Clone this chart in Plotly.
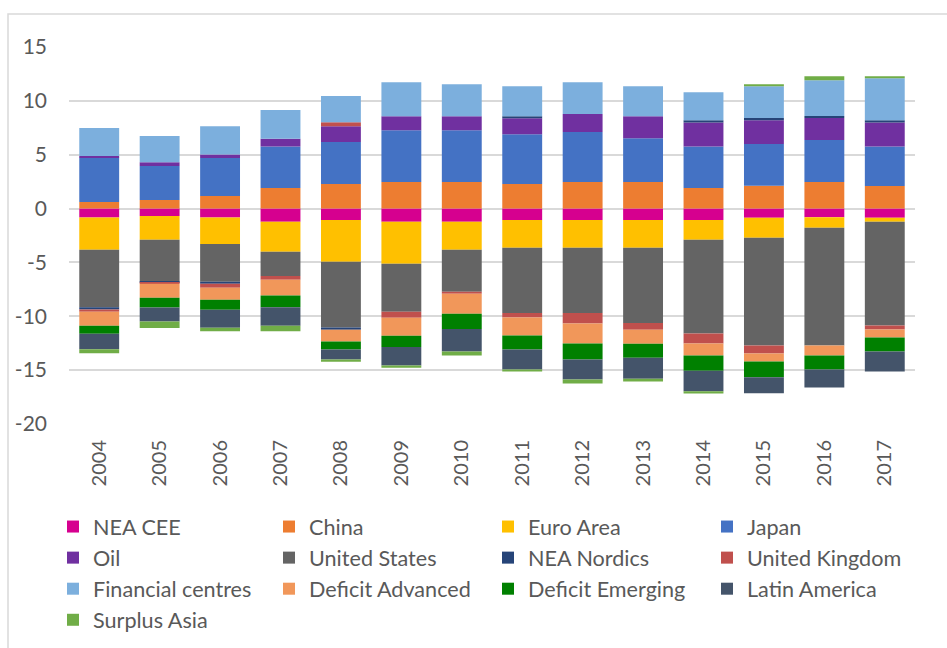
import plotly.graph_objects as go

years = ["2004", "2005", "2006", "2007", "2008", "2009", "2010",
         "2011", "2012", "2013", "2014", "2015", "2016", "2017"]

y_tick_vals = [15, 10, 5, 0, -5, -10, -15, -20]
y_tick_text = ["15", "10", "5", "0", "-5", "-10", "-15", "-20"]

nea_cee = [-0.83, -0.68, -0.83, -1.23, -1.05, -1.23, -1.23, -1.05, -1.05, -1.05, -1.05, -0.86, -0.80, -0.86]
china = [0.62, 0.80, 1.17, 1.91, 2.28, 2.47, 2.47, 2.28, 2.47, 2.47, 1.91, 2.13, 2.47, 2.10]
euro_area = [-3.00, -2.22, -2.47, -2.78, -3.89, -3.89, -2.60, -2.59, -2.59, -2.59, -1.85, -1.85, -0.99, -0.37]
japan = [4.10, 3.15, 3.52, 3.86, 3.89, 4.81, 4.81, 4.63, 4.63, 4.07, 3.86, 3.86, 3.89, 3.67]
oil = [0.15, 0.34, 0.34, 0.71, 1.48, 1.30, 1.30, 1.48, 1.67, 2.04, 2.22, 2.22, 2.04, 2.22]
united_states = [-5.34, -3.89, -3.49, -2.25, -6.11, -4.45, -3.89, -6.05, -6.05, -6.98, -8.70, -10.00, -10.93, -9.63]
nea_nordics = [-0.20, -0.05, -0.19, 0.00, -0.19, 0.00, 0.00, 0.19, 0.00, 0.00, 0.22, 0.19, 0.19, 0.22]
united_kingdom = [-0.20, -0.15, -0.37, -0.34, 0.37, -0.56, -0.19, -0.43, -0.99, -0.62, -0.93, -0.74, 0.00, -0.37]
financial_centres = [2.60, 2.44, 2.62, 2.66, 2.44, 3.15, 2.96, 2.78, 2.96, 2.78, 2.59, 2.96, 3.33, 3.89]
deficit_advanced = [-1.30, -1.30, -1.11, -1.48, -1.11, -1.67, -1.85, -1.67, -1.85, -1.30, -1.11, -0.74, -0.93, -0.74]
deficit_emerging = [-0.74, -0.90, -0.93, -1.08, -0.74, -1.05, -1.42, -1.30, -1.48, -1.30, -1.42, -1.48, -1.30, -1.30]
latin_america = [-1.45, -1.30, -1.67, -1.73, -0.93, -1.73, -2.10, -1.85, -1.85, -1.97, -1.91, -1.48, -1.67, -1.85]
surplus_asia = [-0.37, -0.59, -0.34, -0.49, -0.19, -0.19, -0.37, -0.19, -0.37, -0.25, -0.19, 0.19, 0.37, 0.19]

series = [
    ("NEA CEE", nea_cee, "#D6008F", "legend"),
    ("China", china, "#ED7D31", "legend2"),
    ("Euro Area", euro_area, "#FFC000", "legend3"),
    ("Japan", japan, "#4472C4", "legend4"),
    ("Oil", oil, "#7030A0", "legend"),
    ("United States", united_states, "#646464", "legend2"),
    ("NEA Nordics", nea_nordics, "#264478", "legend3"),
    ("United Kingdom", united_kingdom, "#C0504D", "legend4"),
    ("Financial centres", financial_centres, "#7CAFDD", "legend"),
    ("Deficit Advanced", deficit_advanced, "#F1975A", "legend2"),
    ("Deficit Emerging", deficit_emerging, "#008000", "legend3"),
    ("Latin America", latin_america, "#44546A", "legend4"),
    ("Surplus Asia", surplus_asia, "#70AD47", "legend"),
]

FONT = "Lato, 'Open Sans', sans-serif"
TXT = "#595959"

fig = go.Figure()
for name, vals, col, lg in series:
    fig.add_trace(go.Bar(x=years, y=vals, name=name, marker=dict(color=col, line=dict(width=0)),
                         legend=lg, legendgroup=name))

W, H = 947, 648
L, R, T, B = 69, 32, 47, 224
pw, ph = W - L - R, H - T - B


def px2x(px):
    return (px - L) / pw


def py2y(py):
    return (H - B - py) / ph


leg_common = dict(orientation="v", traceorder="grouped", tracegroupgap=0,
                  font=dict(family=FONT, size=21.6, color=TXT),
                  xanchor="left", yanchor="top", bgcolor="rgba(0,0,0,0)", borderwidth=0)
leg_top = py2y(506)
fig.update_layout(
    width=W, height=H,
    margin=dict(l=L, r=R, t=T, b=B, autoexpand=False),
    paper_bgcolor="white", plot_bgcolor="white",
    barmode="relative", bargap=0.34,
    font=dict(family=FONT, color=TXT, size=20),
    legend=dict(x=px2x(53), y=leg_top, **leg_common),
    legend2=dict(x=px2x(269), y=leg_top, **leg_common),
    legend3=dict(x=px2x(488), y=leg_top, **leg_common),
    legend4=dict(x=px2x(707), y=leg_top, **leg_common),
    xaxis=dict(type="category", tickangle=-90, showgrid=False, zeroline=False, showline=False,
               ticks="", ticklabelstandoff=11, tickfont=dict(family=FONT, size=20, color=TXT)),
    yaxis=dict(range=[-20, 15], tickmode="array", tickvals=y_tick_vals, ticktext=y_tick_text,
               showgrid=True, gridcolor="#D9D9D9", gridwidth=1.5,
               zeroline=False, showline=False, ticks="", ticklabelstandoff=21,
               tickfont=dict(family=FONT, size=21, color=TXT)),
    shapes=[dict(type="rect", xref="paper", yref="paper",
                 x0=px2x(8), x1=px2x(960), y0=py2y(14), y1=py2y(660),
                 line=dict(color="#D9D9D9", width=1.5), fillcolor="rgba(0,0,0,0)", layer="below")],
)

fig.write_html("out.html", config={"displayModeBar": False},
               post_script="document.body.style.margin='0';")
